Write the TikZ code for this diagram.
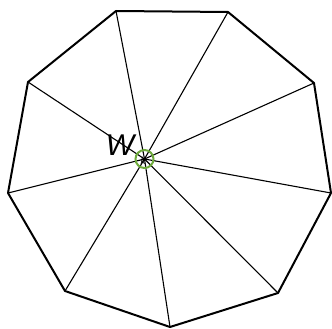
\documentclass[tikz,border=0pt]{standalone}
\usepackage{fontspec}
\setsansfont{Liberation Sans}
\begin{document}
\begin{tikzpicture}[x=1pt,y=-1pt,
  edge/.style={line width=2pt,line join=round},
  spoke/.style={line width=1.1pt},
  mark circ/.style={draw={rgb,255:red,110;green,170;blue,60},line width=2pt,circle,minimum size=18pt,inner sep=0pt}]
\useasboundingbox (0,0) rectangle (332,329);
\coordinate (A1) at (116,11);
\coordinate (A2) at (228,12);
\coordinate (A3) at (314,83);
\coordinate (A4) at (331,193);
\coordinate (A5) at (278,293);
\coordinate (A6) at (170,327);
\coordinate (A7) at (65,291);
\coordinate (A8) at (8,193);
\coordinate (A9) at (28,82);
\coordinate (W) at (144.5,159);
\foreach \i in {1,...,9} \draw[spoke] (W) -- (A\i);
\draw[edge] (A1) -- (A2) -- (A3) -- (A4) -- (A5) -- (A6) -- (A7) -- (A8) -- (A9) -- cycle;
\node[mark circ] (wc) at (W) {};
\node[font=\sffamily\itshape\fontsize{30}{30}\selectfont,inner sep=0pt,anchor=base] (wl) at (120,155) {W};
\node[font=\sffamily\itshape\fontsize{10}{10}\selectfont,inner sep=0pt] (kl) at (143,161) {k};
\end{tikzpicture}
\end{document}
